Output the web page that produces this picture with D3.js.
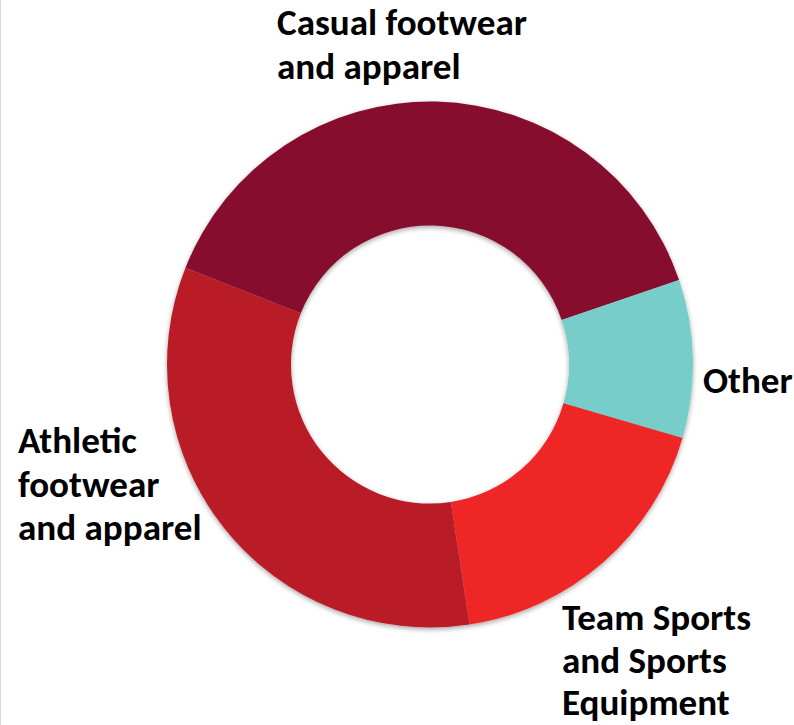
<!DOCTYPE html>
<html>
<head>
<meta charset="utf-8">
<script src="https://cdn.jsdelivr.net/npm/d3@7"></script>
<style>
  html, body { margin: 0; padding: 0; background: #ffffff; }
  svg { display: block; }
</style>
</head>
<body>
<script>
// ---- data ----
const categories = ["Casual footwear and apparel", "Other", "Team Sports and Sports Equipment", "Athletic footwear and apparel"];
const values = [38.8, 9.7, 18.1, 33.4];
const colors = ["#860D2E", "#77CDCA", "#EE2727", "#B91E28"];
const labelLines = [
  ["Casual footwear", "and apparel"],
  ["Other"],
  ["Team Sports", "and Sports", "Equipment"],
  ["Athletic", "footwear", "and apparel"]
];

// ---- layout ----
const W = 794, H = 725;
const cx = 430, cy = 364.5;
const rOuter = 263, rInner = 139;
const startDeg = -68.4;
const lineH = [43.5, 43.5, 42.5, 43.5];
const labelPos = [
  { x: 277, y: 35 },
  { x: 703, y: 393 },
  { x: 562, y: 630 },
  { x: 18, y: 453 }
];

const svg = d3.select("body").append("svg")
  .attr("width", W).attr("height", H);

svg.append("rect").attr("width", W).attr("height", H).attr("fill", "#ffffff");
svg.append("line").attr("x1", 0.5).attr("x2", 0.5).attr("y1", 0).attr("y2", H)
  .attr("stroke", "#d9d9d9").attr("stroke-width", 1);

const defs = svg.append("defs");
const f = defs.append("filter").attr("id", "shadow")
  .attr("x", "-10%").attr("y", "-10%").attr("width", "120%").attr("height", "120%");
f.append("feDropShadow").attr("dx", 0).attr("dy", 2).attr("stdDeviation", 2.5)
  .attr("flood-color", "#000").attr("flood-opacity", 0.35);

const pie = d3.pie().sort(null).value(d => d)
  .startAngle(startDeg * Math.PI / 180)
  .endAngle(startDeg * Math.PI / 180 + 2 * Math.PI);
const arc = d3.arc().innerRadius(rInner).outerRadius(rOuter);

const g = svg.append("g").attr("transform", `translate(${cx},${cy})`)
  .attr("filter", "url(#shadow)");
g.selectAll("path").data(pie(values)).join("path")
  .attr("d", arc)
  .attr("fill", (d, i) => colors[i]);

// ---- labels ----
const fontFamily = "Carlito, Lato, 'Open Sans', sans-serif";
// fit font size so "Casual footwear" spans ~250px
const probe = svg.append("text").attr("font-family", fontFamily).attr("font-weight", 700)
  .attr("font-size", 100).text(labelLines[0][0]);
const w100 = probe.node().getComputedTextLength();
probe.remove();
const fontSize = Math.min(38, 100 * 250 / w100);

labelLines.forEach((lines, i) => {
  const t = svg.append("text")
    .attr("font-family", fontFamily)
    .attr("font-weight", 700)
    .attr("font-size", fontSize)
    .attr("fill", "#000");
  lines.forEach((ln, j) => {
    t.append("tspan").attr("x", labelPos[i].x).attr("y", labelPos[i].y + j * lineH[i]).text(ln);
  });
});
</script>
</body>
</html>
